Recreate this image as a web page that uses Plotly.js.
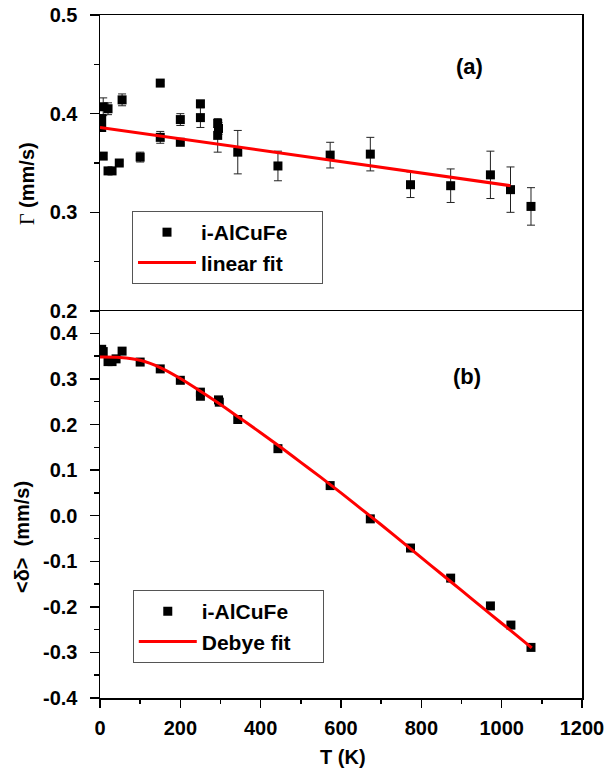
<!DOCTYPE html>
<html>
<head>
<meta charset="utf-8">
<script src="https://cdn.plot.ly/plotly-3.0.1.min.js"></script>
<style>html,body{margin:0;padding:0;background:#fff;}</style>
</head>
<body>
<div id="chart" style="width:607px;height:774px;"></div>
<script>
// ---- Panel (a): linewidth Gamma ----
const gammaT   = [4.2, 4.2, 8, 20, 8, 20, 30, 48, 55, 100, 150, 150, 200, 200, 250, 250, 293, 295, 293, 343, 443, 573, 673, 773, 873, 972, 1022, 1073];
const gammaVal = [0.395, 0.386, 0.407, 0.405, 0.357, 0.342, 0.342, 0.350, 0.414, 0.356, 0.431, 0.376, 0.394, 0.371, 0.410, 0.396, 0.390, 0.385, 0.378, 0.361, 0.347, 0.358, 0.359, 0.328, 0.327, 0.338, 0.323, 0.306];
const gammaErr = [0.004, 0.003, 0.009, 0.006, 0.003, 0.002, 0.002, 0.002, 0.006, 0.005, 0.002, 0.006, 0.006, 0.002, 0.003, 0.010, 0.004, 0.006, 0.017, 0.022, 0.015, 0.013, 0.017, 0.013, 0.017, 0.024, 0.023, 0.019];
const linFitT   = [0, 1022];
const linFitVal = [0.386, 0.327];

// ---- Panel (b): centre shift <delta> ----
const deltaT   = [4.2, 8, 20, 30, 40, 55, 100, 150, 200, 250, 250, 295, 297, 343, 443, 573, 673, 773, 873, 972, 1023, 1073];
const deltaVal = [0.365, 0.360, 0.338, 0.338, 0.344, 0.361, 0.337, 0.322, 0.297, 0.271, 0.262, 0.254, 0.249, 0.211, 0.147, 0.066, -0.007, -0.071, -0.137, -0.198, -0.240, -0.289];
const debyeT   = [0, 50, 100, 150, 200, 250, 300, 350, 400, 450, 500, 550, 600, 650, 700, 750, 800, 850, 900, 950, 1000, 1050, 1075];
const debyeVal = [0.348, 0.347, 0.341, 0.325, 0.301, 0.273, 0.244, 0.213, 0.182, 0.150, 0.117, 0.084, 0.050, 0.015, -0.020, -0.056, -0.092, -0.128, -0.164, -0.200, -0.236, -0.272, -0.290];

// ---- tick labels ----
const xTickVals = [0, 200, 400, 600, 800, 1000, 1200];
const gammaTickVals = [0.2, 0.3, 0.4, 0.5];
const gammaTickText = ["0.2", "0.3", "0.4", "0.5"];
const deltaTickVals = [-0.4, -0.3, -0.2, -0.1, 0.0, 0.1, 0.2, 0.3, 0.4];
const deltaTickText = ["-0.4", "-0.3", "-0.2", "-0.1", "0.0", "0.1", "0.2", "0.3", "0.4"];

const FONT = "Liberation Sans, Arial, Helvetica, sans-serif";
const tickFont = {family: FONT, size: 20, color: "#000", weight: "bold"};
const PAD = "\u00a0\u00a0\u00a0\u00a0\u00a0";

const traces = [
  {x: gammaT, y: gammaVal, type: "scatter", mode: "markers", name: "i-AlCuFe" + PAD,
   xaxis: "x2", yaxis: "y2", legend: "legend",
   marker: {symbol: "square", size: 9, color: "#000"},
   error_y: {type: "data", array: gammaErr, visible: true, color: "#222", thickness: 1, width: 4}},
  {x: linFitT, y: linFitVal, type: "scatter", mode: "lines", name: "linear fit",
   xaxis: "x2", yaxis: "y2", legend: "legend",
   line: {color: "#ff0000", width: 3}},
  {x: deltaT, y: deltaVal, type: "scatter", mode: "markers", name: "i-AlCuFe" + PAD,
   xaxis: "x", yaxis: "y", legend: "legend2",
   marker: {symbol: "square", size: 9, color: "#000"}},
  {x: debyeT, y: debyeVal, type: "scatter", mode: "lines", name: "Debye fit",
   xaxis: "x", yaxis: "y", legend: "legend2", line: {color: "#ff0000", width: 3, shape: "spline"}}
];

const axCommon = {showline: true, linecolor: "#000", linewidth: 1.5, mirror: true,
  showgrid: false, zeroline: false, ticks: "outside", tickcolor: "#000", tickwidth: 1.5,
  tickfont: tickFont};

const legFont = {family: FONT, size: 21, color: "#000", weight: "bold"};
const split = 0.5666;
const layout = {
  width: 607, height: 774,
  margin: {l: 100, r: 25, t: 15, b: 76},
  paper_bgcolor: "#fff", plot_bgcolor: "#fff",
  showlegend: true,
  xaxis: Object.assign({}, axCommon, {domain: [0, 1], anchor: "y", range: [0, 1200],
    tickmode: "array", tickvals: xTickVals, ticklen: 8, ticklabelstandoff: 3,
    minor: {tickmode: "linear", tick0: 0, dtick: 100, ticklen: 4, tickwidth: 1.5, ticks: "outside", tickcolor: "#000"}}),
  yaxis: Object.assign({}, axCommon, {domain: [0, split], anchor: "x", range: [-0.4, 0.449],
    tickmode: "array", tickvals: deltaTickVals, ticktext: deltaTickText, ticklen: 9, ticklabelstandoff: 8,
    minor: {tickmode: "linear", tick0: 0, dtick: 0.05, ticklen: 5, tickwidth: 1.5, ticks: "outside", tickcolor: "#000"}}),
  xaxis2: Object.assign({}, axCommon, {domain: [0, 1], anchor: "y2", range: [0, 1200], matches: "x",
    side: "top", mirror: false, showticklabels: false, ticks: ""}),
  yaxis2: Object.assign({}, axCommon, {domain: [split, 1], anchor: "x2", range: [0.2, 0.5],
    tickmode: "array", tickvals: gammaTickVals, ticktext: gammaTickText, ticklen: 9, ticklabelstandoff: 8,
    minor: {tickmode: "linear", tick0: 0, dtick: 0.05, ticklen: 5, tickwidth: 1.5, ticks: "outside", tickcolor: "#000"}}),
  legend: {x: 0.0664, y: 0.713, xanchor: "left", yanchor: "top", xref: "paper", yref: "paper",
    bgcolor: "#fff", bordercolor: "#555", borderwidth: 1, itemwidth: 58, tracegroupgap: 0,
    font: legFont},
  legend2: {x: 0.068, y: 0.1581, xanchor: "left", yanchor: "top", xref: "paper", yref: "paper",
    bgcolor: "#fff", bordercolor: "#555", borderwidth: 1, itemwidth: 58, tracegroupgap: 0,
    font: legFont},
  annotations: [
    {text: "(a)", xref: "paper", yref: "paper", x: 0.7656, y: 0.9243, showarrow: false,
     xanchor: "center", yanchor: "middle", font: {family: FONT, size: 22, color: "#000", weight: "bold"}},
    {text: "(b)", xref: "paper", yref: "paper", x: 0.761, y: 0.470, showarrow: false,
     xanchor: "center", yanchor: "middle", font: {family: FONT, size: 22, color: "#000", weight: "bold"}},
    {text: "<span style=\"font-family:'Liberation Serif',serif;font-weight:normal\">Γ</span> (mm/s)", xref: "paper", yref: "paper",
     x: -0.1515, y: 0.754, textangle: -90, showarrow: false, xanchor: "center", yanchor: "middle",
     font: {family: FONT, size: 20, color: "#000", weight: "bold"}},
    {text: "&lt;δ&gt;  (mm/s)", xref: "paper", yref: "paper",
     x: -0.1618, y: 0.2357, textangle: -90, showarrow: false, xanchor: "center", yanchor: "middle",
     font: {family: FONT, size: 20, color: "#000", weight: "bold"}},
    {text: "T (K)", xref: "paper", yref: "paper", x: 0.504, y: -0.0864, showarrow: false,
     xanchor: "center", yanchor: "middle", font: {family: FONT, size: 20, color: "#000", weight: "bold"}}
  ]
};

Plotly.newPlot("chart", traces, layout, {displayModeBar: false, staticPlot: true});
</script>
</body>
</html>
